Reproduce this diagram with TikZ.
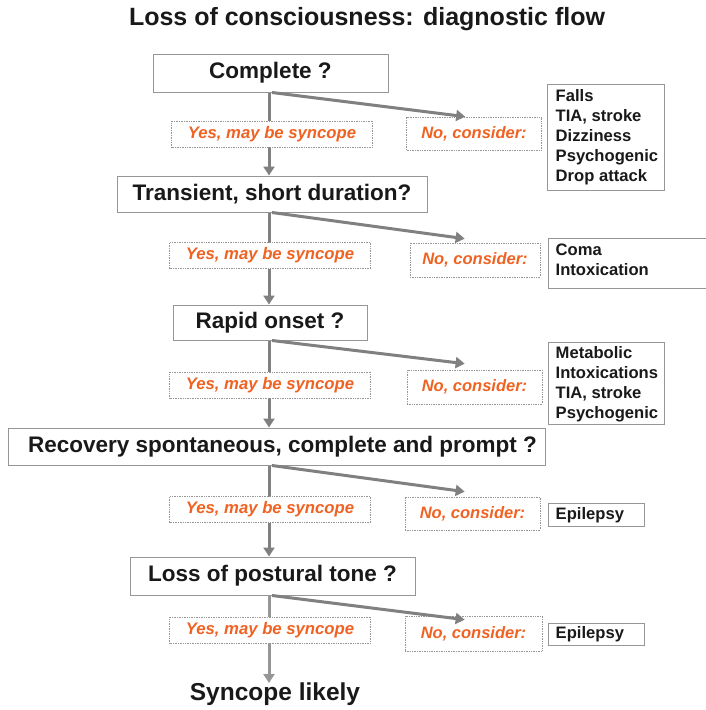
\documentclass[tikz,border=0pt]{standalone}
\usepackage{fontspec}
\setmainfont{Liberation Sans}
\usetikzlibrary{arrows.meta,calc}
\definecolor{orng}{RGB}{240,98,34}
\definecolor{lgray}{RGB}{128,128,128}
\definecolor{bgray}{RGB}{150,150,150}
\begin{document}
\begin{tikzpicture}[x=1pt,y=-1pt,
  qbox/.style={draw=bgray, line width=1pt, fill=white, inner sep=0pt,
    font=\bfseries\fontsize{22.5}{26}\selectfont, text=black!90},
  yesbox/.style={draw=bgray, densely dotted, line width=0.7pt, fill=white, inner sep=0pt,
    minimum width=201pt, minimum height=26pt,
    font=\bfseries\itshape\fontsize{16.7}{19}\selectfont, text=orng},
  nobox/.style={draw=bgray, densely dotted, line width=0.7pt, fill=white, inner sep=0pt,
    minimum width=135pt, minimum height=33pt,
    font=\bfseries\itshape\fontsize{16.5}{19}\selectfont, text=orng},
  lbox/.style={draw=bgray, line width=1pt, fill=white, inner sep=0pt},
  ltext/.style={anchor=north west, inner sep=0pt, align=left,
    font=\bfseries\fontsize{16.6}{20}\selectfont, text=black!90},
  arr/.style={draw=lgray, line width=3pt, -{Triangle[length=9pt,width=11pt]}},
]
\useasboundingbox (0,0) rectangle (706,710);
\node[font=\bfseries\fontsize{25}{29}\selectfont, text=black!90] (title) at (367,19) {Loss of consciousness: diagnostic flow};

% question boxes
\node[qbox, minimum width=235pt, minimum height=38pt] (c1) at (270.5,73) {Complete ?};
\node[qbox, minimum width=310pt, minimum height=36pt] (c2) at (272,194) {Transient, short duration?};
\node[qbox, minimum width=194pt, minimum height=35pt] (c3) at (270,322.5) {Rapid onset ?};
\node[qbox, minimum width=537pt, minimum height=37pt] (c4) at (276.5,446.5) {\hspace*{12pt}Recovery spontaneous, complete and prompt ?};
\node[qbox, minimum width=285pt, minimum height=38pt] (c5) at (272.5,576) {Loss of postural tone ?};
\node[font=\bfseries\fontsize{24.5}{28}\selectfont, text=black!90, inner sep=0pt, anchor=north] (end) at (275,683) {Syncope likely};

\coordinate (col) at (269,0);

% stems
\draw[arr] (c1.south -| col) -- (c2.north -| col);
\draw[arr] (c2.south -| col) -- (c3.north -| col);
\draw[arr] (c3.south -| col) -- (c4.north -| col);
\draw[arr] (c4.south -| col) -- (c5.north -| col);
\draw[arr, draw=bgray] (c5.south -| col) -- (end.north -| col);

% yes labels
\node[yesbox] (y1) at (272,134) {Yes, may be syncope};
\node[yesbox] (y2) at (270,255.5) {Yes, may be syncope};
\node[yesbox] (y3) at (270,385) {Yes, may be syncope};
\node[yesbox] (y4) at (270,509.5) {Yes, may be syncope};
\node[yesbox] (y5) at (270,630) {Yes, may be syncope};

% no labels
\node[nobox] (n1) at (474,133.5) {No, consider:};
\node[nobox, minimum width=130pt, minimum height=34pt] (n2) at (475,260) {No, consider:};
\node[nobox, minimum height=34pt] (n3) at (474.5,387) {No, consider:};
\node[nobox] (n4) at (472.5,513.5) {No, consider:};
\node[nobox, minimum width=137pt, minimum height=35pt] (n5) at (473.5,633.5) {No, consider:};

% right arrows
\draw[arr] ($(c1.south -| col)+(3,0)$) -- ($(n1.north west)+(59,0)$);
\draw[arr] ($(c2.south -| col)+(3,0)$) -- ($(n2.north west)+(55,-4)$);
\draw[arr] ($(c3.south -| col)+(3,0)$) -- ($(n3.north west)+(58,-6)$);
\draw[arr] ($(c4.south -| col)+(3,0)$) -- ($(n4.north west)+(60,-5)$);
\draw[arr] ($(c5.south -| col)+(3,0)$) -- ($(n5.north west)+(60,4)$);

% list boxes
\node[lbox, minimum width=117pt, minimum height=106pt] (lb1) at (605.5,137) {};
\node[ltext] (lt1) at ($(lb1.north west)+(9,6)$) {Falls\\TIA, stroke\\Dizziness\\Psychogenic\\Drop attack};
\node[lbox, minimum width=158pt, minimum height=50pt] (lb2) at (627,263) {};
\node[ltext] (lt2) at ($(lb2.north west)+(8,6)$) {Coma\\Intoxication};
\node[lbox, minimum width=116pt, minimum height=82pt] (lb3) at (606,383) {};
\node[ltext] (lt3) at ($(lb3.north west)+(8,5)$) {Metabolic\\Intoxications\\TIA, stroke\\Psychogenic};
\node[lbox, minimum width=96pt, minimum height=23pt] (lb4) at (596,514.5) {};
\node[ltext] (lt4) at ($(lb4.north west)+(8,5)$) {Epilepsy};
\node[lbox, minimum width=96pt, minimum height=22pt] (lb5) at (596,634) {};
\node[ltext] (lt5) at ($(lb5.north west)+(8,4)$) {Epilepsy};
\end{tikzpicture}
\end{document}
